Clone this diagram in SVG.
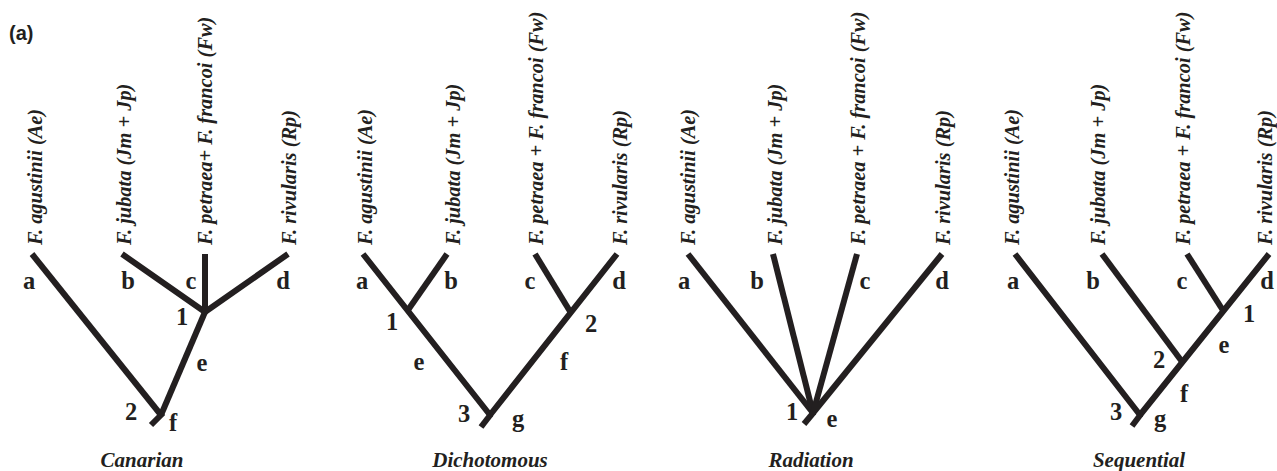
<svg xmlns="http://www.w3.org/2000/svg" width="1277" height="471" viewBox="0 0 1277 471">
<style>
.br{fill:none;stroke:#231f20;stroke-width:6;stroke-linecap:butt;stroke-linejoin:bevel}
.sp{font-family:"Liberation Serif","Times New Roman",serif;font-weight:bold;font-style:italic;font-size:20.4px;fill:#231f20}
.lb{font-family:"Liberation Serif","Times New Roman",serif;font-weight:bold;font-size:24.5px;fill:#231f20;text-anchor:middle}
.ti{font-family:"Liberation Serif","Times New Roman",serif;font-weight:bold;font-style:italic;font-size:21px;fill:#231f20;text-anchor:middle}
.pl{font-family:"Liberation Sans",Arial,sans-serif;font-weight:bold;font-size:20px;fill:#231f20}
</style>
<text class="pl" x="9" y="40">(a)</text>

<g id="connectors">
  <!-- Canarian -->
  <path class="br" d="M32,254 L161,415"/>
  <path class="br" d="M161,415 L205,312"/>
  <path class="br" d="M122,254 L205,312 L288,254"/>
  <path class="br" d="M205,254 L205,312"/>
  <path class="br" d="M163,413 L151,425"/>
  <!-- Dichotomous -->
  <path class="br" d="M363,254 L490,415 L617,254"/>
  <path class="br" d="M447,254 L408,310"/>
  <path class="br" d="M535,254 L571,313"/>
  <path class="br" d="M491,414 L481,427"/>
  <!-- Radiation -->
  <path class="br" d="M688,254 L813,413"/>
  <path class="br" d="M773,254 L813,413"/>
  <path class="br" d="M857,254 L813,413"/>
  <path class="br" d="M942,254 L813,413"/>
  <path class="br" d="M814,412 L804,424"/>
  <!-- Sequential -->
  <path class="br" d="M1015,254 L1140,415 L1269,254"/>
  <path class="br" d="M1102,254 L1183,363"/>
  <path class="br" d="M1187,254 L1224,312"/>
  <path class="br" d="M1141,414 L1132,426"/>
</g>

<g id="tree-canarian">
  <text class="sp" transform="translate(42,245) rotate(-90)">F. agustinii (Ae)</text>
  <text class="sp" transform="translate(131,245) rotate(-90)">F. jubata (Jm + Jp)</text>
  <text class="sp" transform="translate(212,245) rotate(-90)">F. petraea+ F. francoi (Fw)</text>
  <text class="sp" transform="translate(296,245) rotate(-90)">F. rivularis (Rp)</text>
  <text class="lb" x="29" y="289">a</text>
  <text class="lb" x="128" y="289">b</text>
  <text class="lb" x="191" y="289">c</text>
  <text class="lb" x="283" y="289">d</text>
  <text class="lb" x="182" y="325">1</text>
  <text class="lb" x="202" y="371">e</text>
  <text class="lb" x="131" y="420">2</text>
  <text class="lb" x="173" y="431">f</text>
  <text class="ti" x="142" y="467">Canarian</text>
</g>

<g id="tree-dichotomous">
  <text class="sp" transform="translate(372,245) rotate(-90)">F. agustinii (Ae)</text>
  <text class="sp" transform="translate(460,245) rotate(-90)">F. jubata (Jm + Jp)</text>
  <text class="sp" transform="translate(543,245) rotate(-90)">F. petraea + F. francoi (Fw)</text>
  <text class="sp" transform="translate(627,245) rotate(-90)">F. rivularis (Rp)</text>
  <text class="lb" x="362" y="289">a</text>
  <text class="lb" x="451" y="289">b</text>
  <text class="lb" x="530" y="289">c</text>
  <text class="lb" x="619" y="289">d</text>
  <text class="lb" x="392" y="330">1</text>
  <text class="lb" x="591" y="332">2</text>
  <text class="lb" x="419" y="370">e</text>
  <text class="lb" x="564" y="370">f</text>
  <text class="lb" x="464" y="422">3</text>
  <text class="lb" x="518" y="427">g</text>
  <text class="ti" x="490" y="467">Dichotomous</text>
</g>

<g id="tree-radiation">
  <text class="sp" transform="translate(695,245) rotate(-90)">F. agustinii (Ae)</text>
  <text class="sp" transform="translate(782,245) rotate(-90)">F. jubata (Jm + Jp)</text>
  <text class="sp" transform="translate(865,245) rotate(-90)">F. petraea + F. francoi (Fw)</text>
  <text class="sp" transform="translate(950,245) rotate(-90)">F. rivularis (Rp)</text>
  <text class="lb" x="684" y="289">a</text>
  <text class="lb" x="757" y="289">b</text>
  <text class="lb" x="865" y="289">c</text>
  <text class="lb" x="942" y="289">d</text>
  <text class="lb" x="792" y="420">1</text>
  <text class="lb" x="832" y="427">e</text>
  <text class="ti" x="811" y="467">Radiation</text>
</g>

<g id="tree-sequential">
  <text class="sp" transform="translate(1019,245) rotate(-90)">F. agustinii (Ae)</text>
  <text class="sp" transform="translate(1105,245) rotate(-90)">F. jubata (Jm + Jp)</text>
  <text class="sp" transform="translate(1190,245) rotate(-90)">F. petraea + F. francoi (Fw)</text>
  <text class="sp" transform="translate(1272,245) rotate(-90)">F. rivularis (Rp)</text>
  <text class="lb" x="1013" y="289">a</text>
  <text class="lb" x="1093" y="289">b</text>
  <text class="lb" x="1182" y="289">c</text>
  <text class="lb" x="1267" y="289">d</text>
  <text class="lb" x="1249" y="322">1</text>
  <text class="lb" x="1224" y="353">e</text>
  <text class="lb" x="1159" y="368">2</text>
  <text class="lb" x="1184" y="402">f</text>
  <text class="lb" x="1116" y="420">3</text>
  <text class="lb" x="1160" y="427">g</text>
  <text class="ti" x="1139" y="467">Sequential</text>
</g>
</svg>
